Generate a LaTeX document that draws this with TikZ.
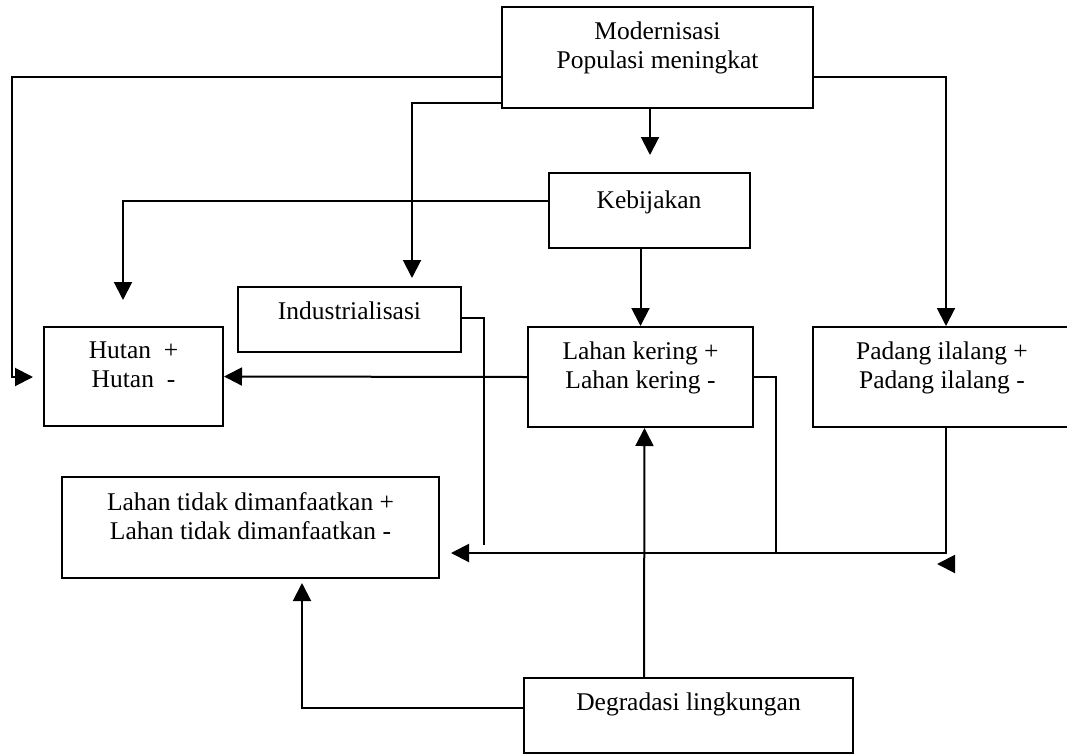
\documentclass[tikz,border=0pt]{standalone}
\usepackage{fontspec}
\setmainfont{Liberation Serif}
\usetikzlibrary{arrows.meta}

\tikzset{
  kotak/.style={draw, line width=2pt, inner sep=0pt},
  teks/.style={anchor=north, align=center, inner sep=0pt, yshift=-16pt,
    font=\fontsize{25.5}{29}\selectfont},
  arr/.style={line width=2pt, -{Triangle[length=18pt,width=18pt]}},
  garis/.style={line width=2pt}
}

\begin{document}
\begin{tikzpicture}[x=1pt, y=-1pt]  % 以像素为单位, y 向下

    \useasboundingbox (0,0) rectangle (1067,755);

    % 绘制各个方框
    \node[kotak, minimum width=311pt, minimum height=101pt,
      label={[teks]north:Modernisasi\\Populasi meningkat}] (modern) at (657.5,57.5) {};
    \node[kotak, minimum width=201pt, minimum height=75pt,
      label={[teks, yshift=-3pt]north:Kebijakan}] (kebijakan) at (649,210.5) {};
    \node[kotak, minimum width=223pt, minimum height=65pt,
      label={[teks]north:Industrialisasi}] (indus) at (349.5,319.5) {};
    \node[kotak, minimum width=179pt, minimum height=99pt,
      label={[teks]north:Hutan~~+\\Hutan~~-}] (hutan) at (133.5,376.5) {};
    \node[kotak, minimum width=225pt, minimum height=100pt,
      label={[teks]north:Lahan kering +\\Lahan kering -}] (lahan) at (640.5,377) {};
    \node[kotak, minimum width=258pt, minimum height=100pt,
      label={[teks]north:Padang ilalang +\\Padang ilalang -}] (padang) at (942,377) {};
    \node[kotak, minimum width=377pt, minimum height=101pt,
      label={[teks]north:Lahan tidak dimanfaatkan +\\Lahan tidak dimanfaatkan -}] (tidak) at (250.5,527.5) {};
    \node[kotak, minimum width=329pt, minimum height=75pt,
      label={[teks]north:Degradasi lingkungan}] (degradasi) at (688.5,715.5) {};

    % 连线的端点
    \coordinate (kiri) at (12,377);
    \coordinate (kiriujung) at (33,377);
    \coordinate (industujung) at (412,278);
    \coordinate (kebujung) at (650,155);
    \coordinate (hutanujung) at (123,300);
    \coordinate (simpul) at (776,553);
    \coordinate (tidakujung) at (451,553);
    \coordinate (industbawah) at (484,545);
    \coordinate (sisaA) at (954,564);
    \coordinate (sisaB) at (937,564);
    \coordinate (tidakbawah) at (302,583);

    % 从 Modernisasi 出发的箭头
    \draw[arr] ([yshift=-19.5pt]modern.west) -| (kiri) -- (kiriujung);
    \draw[arr] ([yshift=-45.5pt]modern.west) -| (industujung);
    \draw[arr] (modern.south -| kebujung) -- (kebujung);
    \draw[arr] ([yshift=-19.5pt]modern.east) -| ([xshift=4pt]padang.north);

    % 从 Kebijakan 出发的箭头
    \draw[arr] ([yshift=9.5pt]kebijakan.west) -| (hutanujung);
    \draw[arr] (kebijakan.south -| lahan.north) -- (lahan.north);

    % 中间的连线
    \draw[arr] (lahan.west) -- (hutan.east);
    \draw[garis] (lahan.east) -| (simpul);
    \draw[garis] ([yshift=1.5pt]indus.east) -| (industbawah);
    \draw[arr] ([xshift=4pt]padang.south) |- (tidakujung);
    \draw[arr] (sisaA) -- (sisaB);

    % 从 Degradasi 出发的箭头
    \draw[arr] ([yshift=7.5pt]degradasi.west) -| (tidakbawah);
    \draw[arr] ([xshift=-44.5pt]degradasi.north) -- ([xshift=4pt]lahan.south);

\end{tikzpicture}
\end{document}
